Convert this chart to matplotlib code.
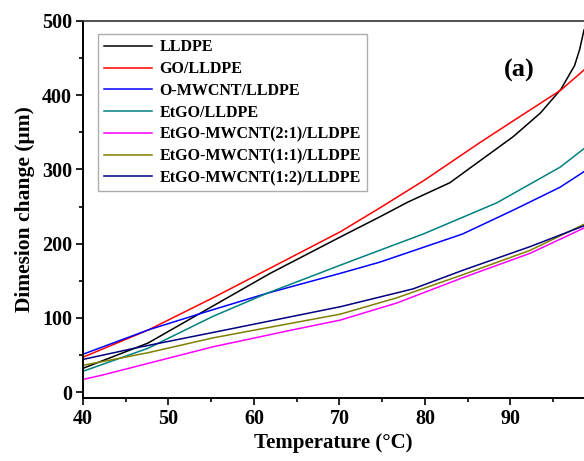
import matplotlib
matplotlib.use("Agg")
import matplotlib.pyplot as plt
from matplotlib.ticker import MultipleLocator

plt.rcParams['font.family'] = ['Liberation Serif', 'DejaVu Serif']
plt.rcParams['font.weight'] = 'bold'

# Data (temperature in °C, dimension change in µm)
T_lldpe = [40, 47.6, 55.2, 61.9, 70.1, 74.7, 78.0, 82.9, 90.3, 93.5, 95.9, 97.5, 98.1, 98.6]
Y_lldpe = [32, 66, 116, 160, 209, 236, 256, 282, 344, 376, 408, 440, 462, 488]

T_go = [40, 47.7, 55.2, 61.9, 70.1, 74.7, 80.0, 86.4, 90.8, 95.9, 98.6]
Y_go = [47, 84, 127, 167, 216, 248, 286, 336, 369, 407, 434]

T_omw = [40, 47.7, 55.2, 61.5, 70.1, 74.7, 84.4, 90.3, 95.8, 98.6]
Y_omw = [51, 84, 111, 133, 160, 175, 213, 245, 276, 297]

T_etgo = [40, 47.6, 55.2, 61.5, 70.1, 74.7, 79.8, 88.4, 95.8, 98.6]
Y_etgo = [28, 59, 102, 133, 171, 191, 213, 255, 303, 328]

T_21 = [40, 42.3, 55.2, 64.6, 70.1, 76.7, 84.4, 92.3, 98.6]
Y_21 = [17, 23, 61, 84, 97, 120, 154, 187, 221]

T_11 = [40, 47.6, 55.2, 60.3, 70.1, 76.7, 84.4, 92.3, 98.6]
Y_11 = [36, 53, 73, 84, 105, 127, 158, 191, 226]

T_12 = [40, 46.4, 56.8, 70.1, 78.6, 84.4, 92.3, 98.6]
Y_12 = [44, 60, 84, 115, 139, 164, 196, 224]

series = [
    ("LLDPE", T_lldpe, Y_lldpe, "black"),
    ("GO/LLDPE", T_go, Y_go, "red"),
    ("O-MWCNT/LLDPE", T_omw, Y_omw, "blue"),
    ("EtGO/LLDPE", T_etgo, Y_etgo, "#008080"),
    ("EtGO-MWCNT(2:1)/LLDPE", T_21, Y_21, "magenta"),
    ("EtGO-MWCNT(1:1)/LLDPE", T_11, Y_11, "#808000"),
    ("EtGO-MWCNT(1:2)/LLDPE", T_12, Y_12, "#000080"),
]

fig = plt.figure(figsize=(5.84, 4.61), dpi=100)
ax = fig.add_axes([83/584, 63/461, 1 - 83/584, (398-21)/461])

for name, t, y, c in series:
    ax.plot(t, y, color=c, lw=1.1, label=name)

ax.set_xlim(40, 98.6)
ax.set_ylim(-8, 500)
ax.xaxis.set_major_locator(MultipleLocator(10))
ax.xaxis.set_minor_locator(MultipleLocator(5))
ax.yaxis.set_major_locator(MultipleLocator(100))
ax.yaxis.set_minor_locator(MultipleLocator(50))
ax.tick_params(which='major', direction='out', length=5, width=1.2, labelsize=14.5, pad=3)
ax.tick_params(which='minor', direction='out', length=3, width=1.2)
for lab in ax.get_xticklabels() + ax.get_yticklabels():
    lab.set_fontweight('bold')
ax.spines['right'].set_visible(False)
for s in ['left', 'bottom']:
    ax.spines[s].set_linewidth(1.4)
ax.spines['top'].set_linewidth(1.2)
ax.spines['top'].set_color('#333333')

ax.set_xlabel("Temperature (\u00b0C)", fontsize=15, fontweight='bold', labelpad=3)
ax.set_ylabel("Dimesion change (\u03bcm)", fontsize=15.5, fontweight='bold', labelpad=5)

ax.text(0.87, 0.87, "(a)", transform=ax.transAxes, fontsize=19, fontweight='bold',
        ha='center', va='center')

leg = ax.legend(loc='upper left', bbox_to_anchor=(0.03, 0.966), fontsize=11.5,
                frameon=True, fancybox=False, handlelength=3.0, handletextpad=0.5,
                labelspacing=0.36, borderpad=0.35, borderaxespad=0)
leg.get_frame().set_edgecolor('#999999')
leg.get_frame().set_linewidth(1.0)
for txt in leg.get_texts():
    txt.set_fontweight('bold')

fig.savefig("out.png", dpi=100)
